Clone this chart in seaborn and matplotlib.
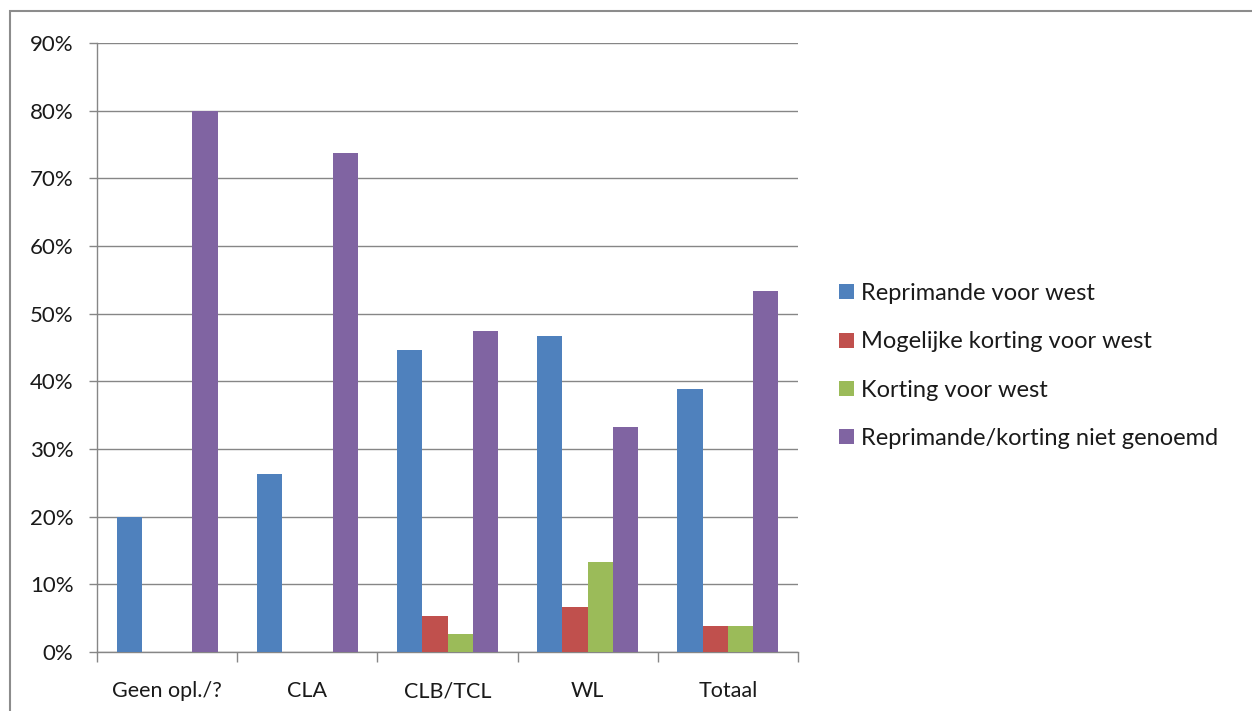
import matplotlib
matplotlib.use("Agg")
import matplotlib.pyplot as plt
import seaborn as sns
import pandas as pd
import numpy as np
from matplotlib.patches import Rectangle
from matplotlib.ticker import FuncFormatter, FixedLocator

categories = ["Geen opl./?", "CLA", "CLB/TCL", "WL", "Totaal"]
series = ["Reprimande voor west", "Mogelijke korting voor west",
          "Korting voor west", "Reprimande/korting niet genoemd"]
reprimande = [20.0, 26.3, 44.7, 46.7, 38.9]
mogelijke = [0.0, 0.0, 5.3, 6.7, 3.9]
korting = [0.0, 0.0, 2.6, 13.3, 3.9]
niet_genoemd = [80.0, 73.7, 47.4, 33.3, 53.3]
colors = ["#4F81BD", "#C0504D", "#9BBB59", "#8064A2"]

rows = []
for s, vals in zip(series, [reprimande, mogelijke, korting, niet_genoemd]):
    for c, v in zip(categories, vals):
        rows.append({"cat": c, "series": s, "value": v})
df = pd.DataFrame(rows)

sns.set_style("white")
plt.rcParams["font.family"] = ["Lato", "DejaVu Sans"]

W, H = 1252, 711
fig = plt.figure(figsize=(W / 100, H / 100), dpi=100)
ax = fig.add_axes([97 / W, (H - 652) / H, (798 - 97) / W, (652 - 43) / H])

sns.barplot(data=df, x="cat", y="value", hue="series", palette=colors,
            width=0.72, saturation=1, ax=ax, legend=True, zorder=3,
            linewidth=0, edgecolor="none")

gray = "#868686"
ax.set_ylim(0, 90)
ax.set_xlim(-0.5, len(categories) - 0.5)
ax.set_yticks(np.arange(0, 91, 10))
ax.yaxis.set_major_formatter(FuncFormatter(lambda v, p: f"{int(v)}%"))
ax.yaxis.grid(True, color=gray, linewidth=1.0, zorder=0)
ax.set_axisbelow(True)
ax.set_xlabel("")
ax.set_ylabel("")

ax.xaxis.set_minor_locator(FixedLocator(np.arange(-0.5, len(categories), 1.0)))
ax.tick_params(axis="x", which="major", length=0, pad=21, labelsize=15.5, labelcolor="#1a1a1a")
ax.tick_params(axis="x", which="minor", length=7, width=1, color=gray, direction="out")
ax.tick_params(axis="y", which="major", length=6, width=1, color=gray, direction="out",
               pad=11, labelsize=16, labelcolor="#1a1a1a")
ax.tick_params(left=True, bottom=False)
ax.tick_params(axis="x", which="minor", bottom=True)

for side in ["top", "right"]:
    ax.spines[side].set_visible(False)
for side in ["left", "bottom"]:
    ax.spines[side].set_color(gray)
    ax.spines[side].set_linewidth(1.0)

handles, labels = ax.get_legend_handles_labels()
ax.get_legend().remove()
fig.legend(handles, labels, loc="center left",
           bbox_to_anchor=(830 / W, (H - 366) / H), frameon=False,
           fontsize=17, handlelength=0.6, handleheight=0.6,
           handletextpad=0.3, labelspacing=1.15, borderaxespad=0,
           labelcolor="#1a1a1a")

fig.patches.append(Rectangle((10 / W, -0.2), 1.2, (H - 11) / H + 0.2,
                             transform=fig.transFigure, fill=False,
                             edgecolor="#8c8c8c", linewidth=1.5))

fig.savefig("out.png", dpi=100, facecolor="white")
